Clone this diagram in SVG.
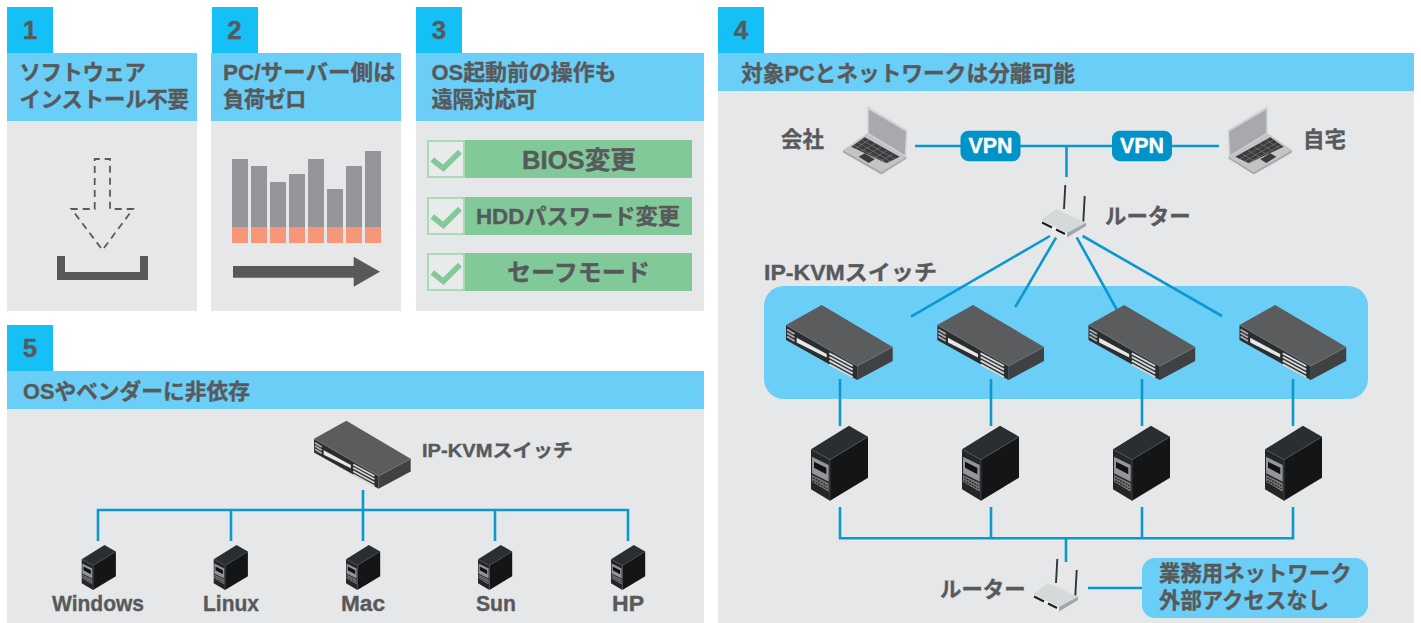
<svg xmlns="http://www.w3.org/2000/svg" width="1421" height="623" viewBox="0 0 1421 623">
<style>
text{font-family:"Liberation Sans","Noto Sans CJK JP",sans-serif;font-weight:700;fill:#58595b;stroke:#58595b;stroke-width:.35px;font-size:21.4px}
.c{text-anchor:middle}
.num{font-size:26px}
.vpn{fill:#fff;stroke:#fff}
.badge{fill:#14c0f5}.head{fill:#6bcef6}.body{fill:#e6e7e9}
.ln{fill:none;stroke:#0a99cf;stroke-width:2.6}
.bar{fill:#939598}.org{fill:#f79679}.grn{fill:#82c99a}
.box{fill:#e9eaea;stroke:#a9dbb9;stroke-width:2}
.chk{fill:none;stroke:#82c99a;stroke-width:5.500}
</style>
<defs>
<g id="sw">
<polygon points="35.700,0 106.700,42 71.300,61 0,20" fill="#5a5c5e"/>
<polygon points="71.300,61 106.700,42 106.700,56 71.300,75" fill="#404143"/>
<polygon points="0,20 71.300,61 71.300,75 0,35" fill="#2c2d2f"/>
<path d="M0,20L71.300,61L106.700,42" stroke="#76787a" stroke-width=".8" fill="none"/>
<path d="M1,24.500L8.500,29M1,28L8.500,32.500M1,31.500L8.500,36" stroke="#a7a9ac" stroke-width="2" fill="none"/>
<polygon points="10.700,32.700 40.700,49 40.700,52.500 10.700,37.500" fill="#e6e7e8"/>
<path d="M43.300,48.300L66.700,61M43.300,52L66.700,64.700M43.300,55.700L66.700,68.400M43.300,59.400L66.700,72" stroke="#d4d5d6" stroke-width="1.900" fill="none"/>
</g>
<g id="srv">
<polygon points="38,0 57,11 19,34 0,23.600" fill="#2b2e30"/>
<polygon points="19,34 57,11 57,52 19,75" fill="#141516"/>
<polygon points="0,23.600 19,34 19,75 0,63.600" fill="#232527"/>
<path d="M0,23.600L19,34L57,11M19,34V75" stroke="#55585a" stroke-width=".6" fill="none"/>
<polygon points="1,31 17.700,39.300 17.700,56 1,47.600" fill="#939598"/>
<polygon points="3,36 15.300,42 15.300,48.600 3,42" fill="#111"/>
<polygon points="1,49.300 17.700,57.600 17.700,66 1,56" fill="#77787b"/>
<path d="M2,52L16.500,60M2,55L16.500,63" stroke="#222" stroke-width="1.300" stroke-dasharray="2 1" fill="none"/>
</g>
<g id="rt">
<path d="M23,24L24.300,0M42.300,36.700L43.700,11" stroke="#333436" stroke-width="1.900" fill="none"/>
<polygon points="15,24 45,37.700 26,48 0,35" fill="#d5d9da"/>
<polygon points="26,48 45,37.700 45,41 26,52.500" fill="#a2a5a7"/>
<polygon points="0,35 26,48 26,52.500 0,38.500" fill="#eef0f0"/>
<path d="M1,37.500L11,42.500M15,44.500L24,49" stroke="#1d1e1f" stroke-width="2" fill="none"/>
</g>
<g id="lap">
<polygon points="867.300,106 907.300,130 906.300,156.700 867.300,133.300" fill="#d1d3d4"/>
<polygon points="868.700,109.500 906,131.500 904.700,155 868.700,133" fill="#a7a9ac"/>
<polygon points="867.300,133.300 906.300,156.700 881.300,172 843,150" fill="#c2c4c6"/>
<polygon points="843,150 881.300,172 906.300,156.700 906.300,158.700 881.300,174.500 843,152.500" fill="#a7a9ac"/>
<polygon points="864.700,137.300 899.700,156.700 886.300,163.300 851.300,146.700" fill="#3a3b3d"/>
<path d="M861,139.500L895,159M857,142L891,161.500M853.500,145L887,163M869,140L856,148M875,143.500L862,151M881,147L868,154.500M887,150.500L874,158M893,154L880,161.500" stroke="#8e9092" stroke-width=".5" fill="none"/>
<polygon points="858.700,156.700 864.700,153.300 874.700,159.300 868.700,163" fill="#3a3b3d"/>
</g>
</defs>

<g id="panel-1">
<rect class="badge" x="7" y="7" width="46" height="46"/>
<text class="num c" x="30" y="39">1</text>
<rect class="body" x="7" y="121" width="190" height="190"/>
<rect class="head" x="7" y="53" width="190" height="68"/>
<text x="19.500" y="80" textLength="126.500">ソフトウェア</text>
<text x="19.500" y="107" textLength="169.500">インストール不要</text>
<path d="M94.700,209V159H110V209H133L102.500,250L71.500,209Z" fill="none" stroke="#58595b" stroke-width="1.800" stroke-dasharray="7 5"/>
<path d="M57,256H65V272H140V256H148V280H57Z" fill="#58595b"/>
</g>

<g id="panel-2">
<rect class="badge" x="212" y="7" width="46" height="46"/>
<text class="num c" x="234.500" y="39">2</text>
<rect class="body" x="211" y="121" width="190" height="190"/>
<rect class="head" x="211" y="53" width="190" height="68"/>
<text x="223" y="80" textLength="172.500" lengthAdjust="spacingAndGlyphs">PC/サーバー側は</text>
<text x="223" y="107" textLength="83.500">負荷ゼロ</text>
<rect class="bar" x="232" y="159" width="16" height="68"/><rect class="org" x="232" y="227" width="16" height="16"/>
<rect class="bar" x="251" y="166" width="16" height="61"/><rect class="org" x="251" y="227" width="16" height="16"/>
<rect class="bar" x="270" y="182" width="16" height="45"/><rect class="org" x="270" y="227" width="16" height="16"/>
<rect class="bar" x="289" y="174" width="16" height="53"/><rect class="org" x="289" y="227" width="16" height="16"/>
<rect class="bar" x="308" y="159" width="16" height="68"/><rect class="org" x="308" y="227" width="16" height="16"/>
<rect class="bar" x="327" y="189" width="16" height="38"/><rect class="org" x="327" y="227" width="16" height="16"/>
<rect class="bar" x="346" y="166" width="16" height="61"/><rect class="org" x="346" y="227" width="16" height="16"/>
<rect class="bar" x="365" y="151" width="16" height="76"/><rect class="org" x="365" y="227" width="16" height="16"/>
<polygon points="233,266 353.700,266 353.700,256.700 380,271.700 353.700,286.700 353.700,277.700 233,277.700" fill="#58595b"/>
</g>

<g id="panel-3">
<rect class="badge" x="416" y="7" width="46" height="46"/>
<text class="num c" x="439" y="39">3</text>
<rect class="body" x="416" y="121" width="288" height="190"/>
<rect class="head" x="416" y="53" width="288" height="68"/>
<text x="431.500" y="80" textLength="185" lengthAdjust="spacingAndGlyphs">OS起動前の操作も</text>
<text x="431.500" y="107" textLength="105.500">遠隔対応可</text>
<rect class="grn" x="428" y="140" width="264" height="38"/>
<rect class="box" x="428" y="141" width="36" height="36"/>
<path class="chk" d="M432.300,159.500L443.300,168.300L460,151.700"/>
<text class="c" x="579" y="169" textLength="114" lengthAdjust="spacingAndGlyphs" style="font-size:25px">BIOS変更</text>
<rect class="grn" x="428" y="197" width="264" height="38"/>
<rect class="box" x="428" y="198" width="36" height="36"/>
<path class="chk" d="M432.300,216.500L443.300,225.300L460,208.700"/>
<text class="c" x="578" y="224" textLength="204" lengthAdjust="spacingAndGlyphs" style="font-size:22px">HDDパスワード変更</text>
<rect class="grn" x="428" y="253" width="264" height="38"/>
<rect class="box" x="428" y="254" width="36" height="36"/>
<path class="chk" d="M432.300,272.500L443.300,281.300L460,264.700"/>
<text class="c" x="578.500" y="281" textLength="143" lengthAdjust="spacingAndGlyphs" style="font-size:24px">セーフモード</text>
</g>

<g id="panel-4">
<rect class="badge" x="718" y="7" width="46" height="46"/>
<text class="num c" x="741" y="39">4</text>
<rect class="body" x="718" y="91" width="696" height="532"/>
<rect class="head" x="718" y="53" width="696" height="38"/>
<text x="741" y="81" textLength="334" lengthAdjust="spacingAndGlyphs">対象PCとネットワークは分離可能</text>
</g>

<g id="panel-5">
<rect class="badge" x="7" y="325" width="46" height="46"/>
<text class="num c" x="30" y="357">5</text>
<rect class="body" x="7" y="409" width="697" height="214"/>
<rect class="head" x="7" y="371" width="697" height="38"/>
<text x="23" y="399" textLength="227" lengthAdjust="spacingAndGlyphs">OSやベンダーに非依存</text>
</g>

<rect id="kvm-zone" x="764" y="286" width="604" height="113" rx="20" fill="#6bcef6"/>

<g id="connectors">
<path class="ln" d="M915,146H1219M1066.500,146V177"/>
<path class="ln" d="M1050,236L911,316.700M1056,237.700L1015.300,307M1076.700,237.300L1117,310M1082.700,236L1222,316"/>
<path class="ln" d="M840,379V426M991,379V426M1142,379V426M1293,379V426"/>
<path class="ln" d="M840,507V538.300H1293V507M991,507V538M1142,507V538M1066,538V562M1088,588H1142"/>
<path class="ln" d="M363,490V510M98,541V510H628V541M231,510V541M363,510V541M495,510V541"/>
</g>

<g id="vpn-1"><rect x="960.500" y="130.700" width="60" height="30.500" rx="8" fill="#0093c9"/><text class="c vpn" x="990.500" y="153">VPN</text></g>
<g id="vpn-2"><rect x="1112" y="130.700" width="60" height="30.500" rx="8" fill="#0093c9"/><text class="c vpn" x="1142" y="153">VPN</text></g>

<g id="office"><use href="#lap"/><text x="781" y="147">会社</text></g>
<g id="home"><use href="#lap" transform="translate(2135,0) scale(-1,1)"/><text x="1303" y="147">自宅</text></g>
<g id="router-top"><use href="#rt" x="1041" y="185"/><text x="1105" y="224">ルーター</text></g>
<g id="kvm-label"><text x="764" y="280" textLength="173" lengthAdjust="spacingAndGlyphs">IP-KVMスイッチ</text></g>
<g id="switch-1"><use href="#sw" x="786" y="305"/></g>
<g id="switch-2"><use href="#sw" x="937.300" y="305"/></g>
<g id="switch-3"><use href="#sw" x="1088.500" y="305"/></g>
<g id="switch-4"><use href="#sw" x="1239.500" y="305"/></g>
<g id="server-1"><use href="#srv" x="811" y="425.700"/></g>
<g id="server-2"><use href="#srv" x="962" y="425.700"/></g>
<g id="server-3"><use href="#srv" x="1113" y="425.700"/></g>
<g id="server-4"><use href="#srv" x="1265" y="425.700"/></g>
<g id="router-bottom"><use href="#rt" x="1033" y="559"/><text x="940" y="597">ルーター</text></g>
<g id="business">
<rect x="1142" y="558" width="226" height="60" rx="13" fill="#6bcef6"/>
<text x="1159" y="581">業務用ネットワーク</text>
<text x="1159" y="608">外部アクセスなし</text>
</g>

<g id="switch-5"><use href="#sw" transform="translate(314,420.700) scale(0.906)"/><text x="422" y="457" textLength="151" lengthAdjust="spacingAndGlyphs" style="font-size:18.500px">IP-KVMスイッチ</text></g>
<g id="os-windows"><use href="#srv" transform="translate(81.700,545) scale(0.6)"/><text class="c" x="98" y="611" textLength="92" lengthAdjust="spacingAndGlyphs">Windows</text></g>
<g id="os-linux"><use href="#srv" transform="translate(213.700,545) scale(0.6)"/><text class="c" x="231" y="611" textLength="56" lengthAdjust="spacingAndGlyphs">Linux</text></g>
<g id="os-mac"><use href="#srv" transform="translate(346,545) scale(0.6)"/><text class="c" x="363" y="611" textLength="44" lengthAdjust="spacingAndGlyphs">Mac</text></g>
<g id="os-sun"><use href="#srv" transform="translate(478,545) scale(0.6)"/><text class="c" x="496" y="611" textLength="40" lengthAdjust="spacingAndGlyphs">Sun</text></g>
<g id="os-hp"><use href="#srv" transform="translate(611,545) scale(0.6)"/><text class="c" x="628" y="611" textLength="32" lengthAdjust="spacingAndGlyphs">HP</text></g>
</svg>
